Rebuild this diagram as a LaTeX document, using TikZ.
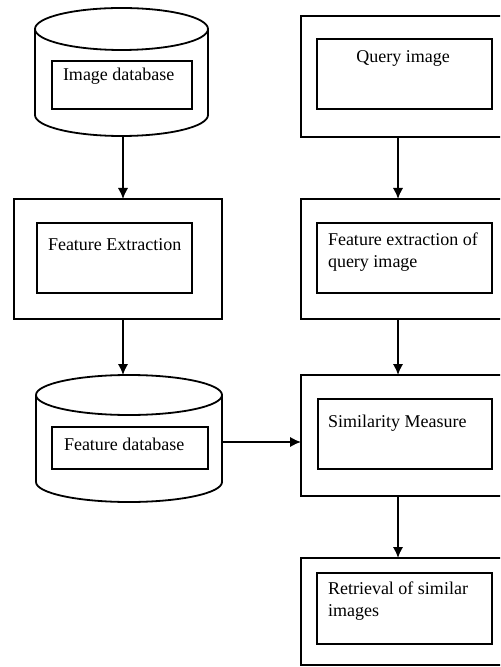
\documentclass[tikz,border=0pt]{standalone}
\usepackage{fontspec}
\setmainfont{Liberation Serif}
\usetikzlibrary{arrows.meta}
\begin{document}
\begin{tikzpicture}[x=0.5pt,y=-0.5pt,
  line width=0.9pt,
  box/.style={draw, rectangle, inner sep=0pt, outer sep=0pt},
  ghost/.style={rectangle, inner sep=0pt, outer sep=0pt},
  lbl/.style={inner sep=0pt, outer sep=0pt, anchor=base west, font=\fontsize{9}{11}\selectfont, align=left},
  arr/.style={-{Latex[length=5.5pt,width=5.2pt]}}]
\useasboundingbox (0,0) rectangle (500,667);
\clip (0,0) rectangle (500,667);

% left column
\node[ghost, minimum width=86.5pt, minimum height=64pt] (cyl1) at (121.5,72) {};
\draw (35,29) -- (35,115) arc[start angle=180, end angle=360, x radius=43.25pt, y radius=10.5pt] -- (208,29);
\draw (121.5,29) ellipse [x radius=43.25pt, y radius=10.5pt];
\node[box, minimum width=70pt, minimum height=24pt] (cyl1in) at (122,85) {};
\node[lbl] (t1) at (63,81) {Image database};

\node[box, minimum width=104pt, minimum height=60pt] (fe) at (118,259) {};
\node[box, minimum width=77.5pt, minimum height=35pt] (fein) at (114.5,258) {};
\node[lbl] (t2) at (48,251) {Feature Extraction};

\node[ghost, minimum width=93pt, minimum height=63.5pt] (cyl2) at (129,438.5) {};
\draw (36,395) -- (36,482) arc[start angle=180, end angle=360, x radius=46.5pt, y radius=10pt] -- (222,395);
\draw (129,395) ellipse [x radius=46.5pt, y radius=10pt];
\node[box, minimum width=78pt, minimum height=21pt] (cyl2in) at (130,448) {};
\node[lbl] (t3) at (64,450) {Feature database};

% right column
\node[box, minimum width=103.5pt, minimum height=60.5pt] (q) at (404.5,76.5) {};
\node[box, minimum width=87.5pt, minimum height=35pt] (qin) at (404.5,74) {};
\node[inner sep=0pt, anchor=base, font=\fontsize{9}{11}\selectfont] (t4) at (403,63) {Query image};

\node[box, minimum width=103.5pt, minimum height=60pt] (feq) at (404.5,259) {};
\node[box, minimum width=87.5pt, minimum height=35pt] (feqin) at (404.5,258) {};
\node[lbl] (t5) at (328,268) {Feature extraction of\\query image};

\node[box, minimum width=103.5pt, minimum height=60.5pt] (sim) at (404.5,435.5) {};
\node[box, minimum width=87pt, minimum height=35pt] (simin) at (405,434) {};
\node[lbl] (t6) at (328,427) {Similarity Measure};

\node[box, minimum width=103.5pt, minimum height=53.5pt] (ret) at (404.5,611.5) {};
\node[box, minimum width=87.5pt, minimum height=35.5pt] (retin) at (404.5,608.5) {};
\node[lbl] (t7) at (328,616) {Retrieval of similar\\images};

% connectors
\coordinate (lx) at (123,0);
\coordinate (rx) at (398,0);
\coordinate (ay) at (0,442);
\draw[arr] (cyl1.south -| lx) -- (fe.north -| lx);
\draw[arr] (fe.south -| lx) -- (cyl2.north -| lx);
\draw[arr] (q.south -| rx) -- (feq.north -| rx);
\draw[arr] (feq.south -| rx) -- (sim.north -| rx);
\draw[arr] (sim.south -| rx) -- (ret.north -| rx);
\draw[arr] (cyl2.east |- ay) -- (sim.west |- ay);
\end{tikzpicture}
\end{document}
